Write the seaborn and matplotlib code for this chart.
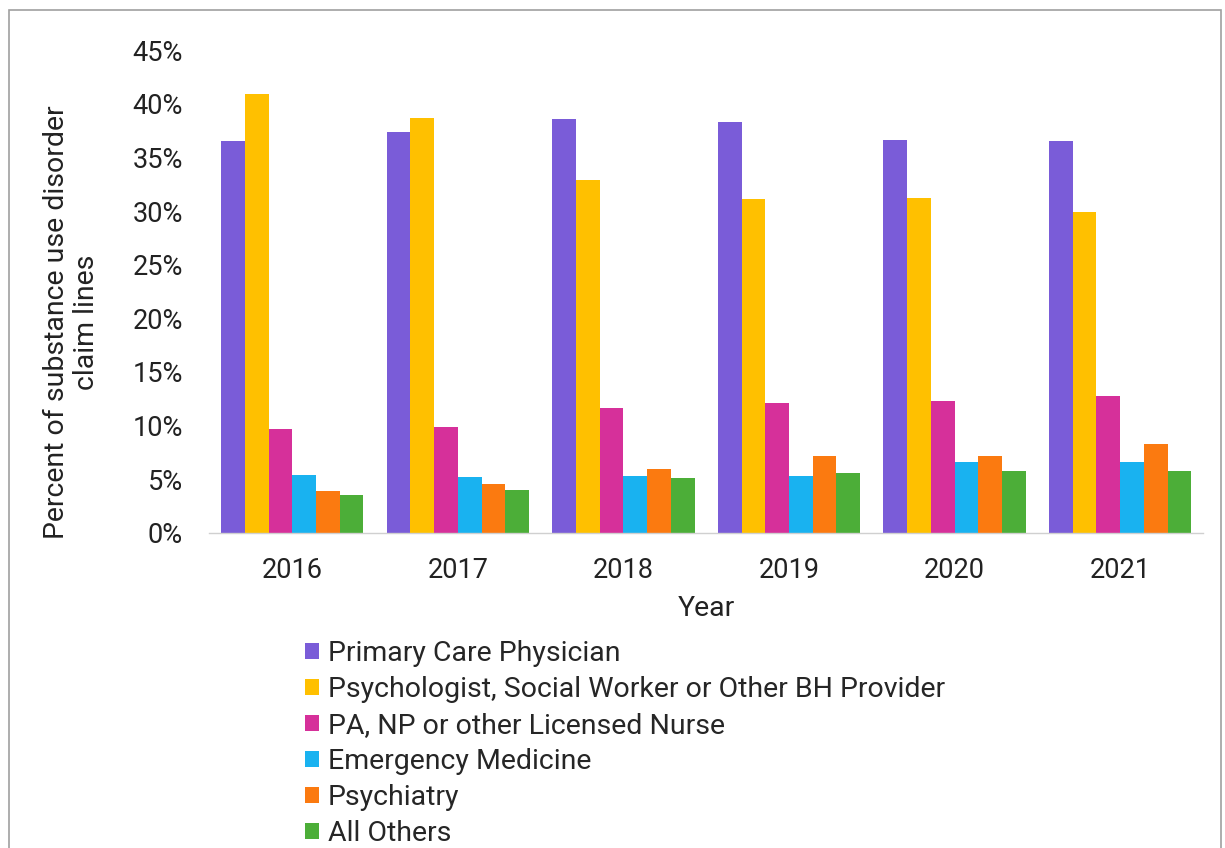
import matplotlib
matplotlib.use("Agg")
import matplotlib.pyplot as plt
from matplotlib.patches import Rectangle
from matplotlib.ticker import FuncFormatter
import seaborn as sns
import pandas as pd

years = ["2016", "2017", "2018", "2019", "2020", "2021"]
providers = [
    "Primary Care Physician",
    "Psychologist, Social Worker or Other BH Provider",
    "PA, NP or other Licensed Nurse",
    "Emergency Medicine",
    "Psychiatry",
    "All Others",
]
primary_care = [36.5, 37.4, 38.6, 38.3, 36.6, 36.5]
psychologist_bh = [40.9, 38.7, 32.9, 31.1, 31.2, 29.9]
pa_np_nurse = [9.7, 9.9, 11.6, 12.1, 12.3, 12.8]
emergency_med = [5.4, 5.2, 5.3, 5.3, 6.6, 6.6]
psychiatry = [3.9, 4.6, 6.0, 7.2, 7.2, 8.3]
all_others = [3.5, 4.0, 5.1, 5.6, 5.8, 5.8]

series = [primary_care, psychologist_bh, pa_np_nurse, emergency_med, psychiatry, all_others]
colors = ["#7a5cd8", "#ffc000", "#d6309a", "#19b2f0", "#fb7a10", "#4cae38"]

rows = []
for name, vals in zip(providers, series):
    for yr, v in zip(years, vals):
        rows.append({"Year": yr, "Provider": name, "Share": v})
df = pd.DataFrame(rows)

sns.set_theme(style="white")
plt.rcParams["font.family"] = ["Roboto", "DejaVu Sans"]

fig = plt.figure(figsize=(12.25, 8.48), dpi=100)
ax = fig.add_axes([0.171, 0.3715, 0.811, 0.5695])

sns.barplot(data=df, x="Year", y="Share", hue="Provider", hue_order=providers,
            order=years, palette=colors, width=0.86, gap=0, saturation=1,
            edgecolor="none", ax=ax, legend=True)

ax.set_ylim(0, 45)
ax.set_xlim(-0.5, 5.5)
ax.set_yticks(range(0, 46, 5))
ax.yaxis.set_major_formatter(FuncFormatter(lambda v, _: f"{int(v)}%"))
ax.tick_params(axis="both", labelsize=19.5, colors="#222222", length=0)
ax.tick_params(axis="y", pad=19)
ax.tick_params(axis="x", pad=17)

for side in ["top", "right", "left"]:
    ax.spines[side].set_visible(False)
ax.spines["bottom"].set_color("#d0d0d0")
ax.spines["bottom"].set_linewidth(1.0)

ax.set_xlabel("Year", fontsize=20.5, color="#222222")
ax.xaxis.set_label_coords(0.5, -0.128)
ax.set_ylabel("Percent of substance use disorder\nclaim lines", fontsize=20.5,
              color="#222222", linespacing=1.15)
ax.yaxis.set_label_coords(-0.110, 0.437)

handles, labels = ax.get_legend_handles_labels()
ax.legend_.remove()
fig.legend(handles, labels, loc="upper left", bbox_to_anchor=(0.249, 0.2455),
           frameon=False, fontsize=20.5, handlelength=0.5, handleheight=0.5,
           handletextpad=0.3, labelspacing=0.32, borderpad=0, borderaxespad=0)

fig.add_artist(Rectangle((0.0073, -0.02), 0.9894, 1.008, transform=fig.transFigure,
                         fill=False, edgecolor="#a0a0a0", linewidth=1.2))

fig.savefig("out.png", dpi=100, facecolor="white")
